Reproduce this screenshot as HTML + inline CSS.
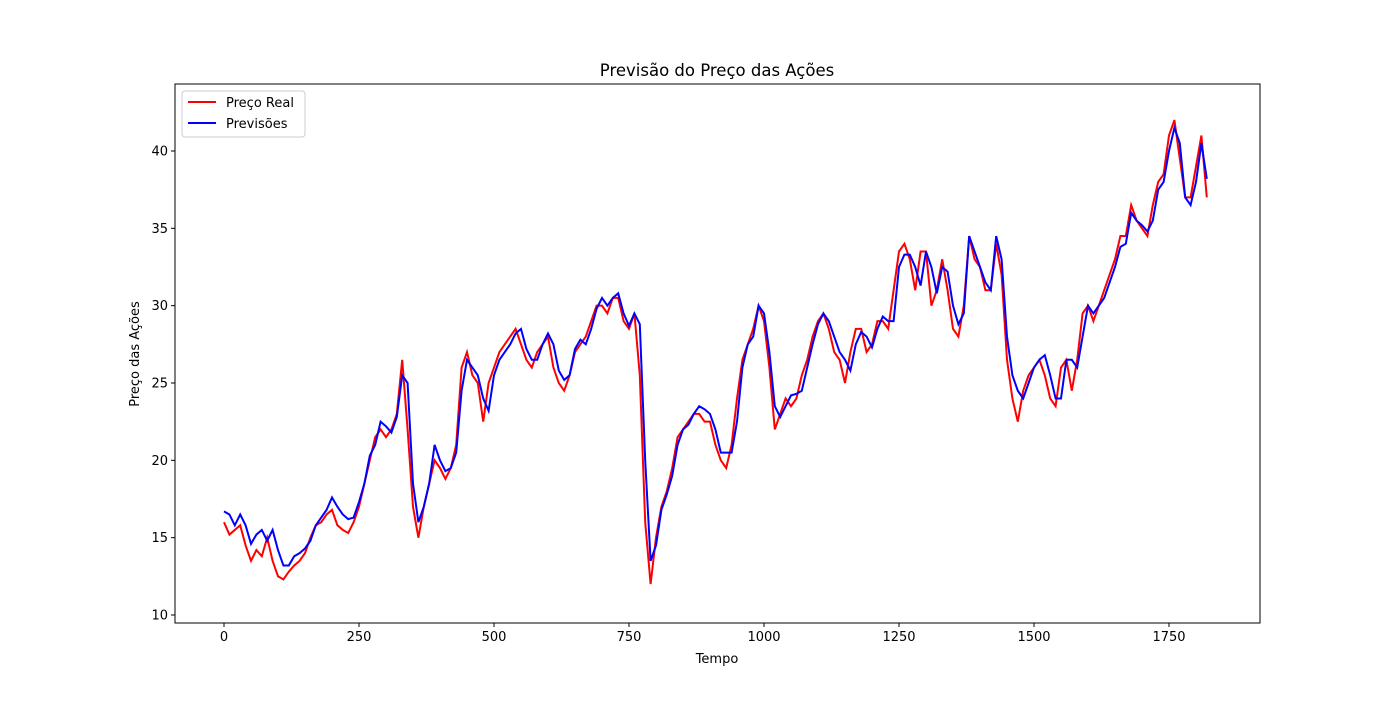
<!DOCTYPE html>
<html><head><meta charset="utf-8"><style>
body{margin:0;background:#fff;font-family:"Liberation Sans","DejaVu Sans",sans-serif}
svg text{font-family:"DejaVu Sans","Liberation Sans",sans-serif}
</style></head><body>
<svg id="c" width="1400" height="700"></svg>
<script>
const tStep = 10;
const realPrice = [16.0,15.2,15.5,15.8,14.5,13.5,14.2,13.8,15.0,13.5,12.5,12.3,12.8,13.2,13.5,14.0,15.0,15.8,16.0,16.5,16.8,15.8,15.5,15.3,16.0,17.0,18.5,20.0,21.5,22.0,21.5,22.0,23.0,26.5,22.0,17.0,15.0,17.0,18.5,20.0,19.5,18.8,19.5,21.0,26.0,27.0,25.5,25.0,22.5,25.0,26.0,27.0,27.5,28.0,28.5,27.5,26.5,26.0,27.0,27.5,28.0,26.0,25.0,24.5,25.5,27.0,27.5,28.0,29.0,30.0,30.0,29.5,30.5,30.5,29.0,28.5,29.5,25.5,16.0,12.0,15.0,17.0,18.0,19.5,21.5,22.0,22.5,23.0,23.0,22.5,22.5,21.0,20.0,19.5,21.0,24.0,26.5,27.5,28.5,30.0,29.0,26.0,22.0,23.0,24.0,23.5,24.0,25.5,26.5,28.0,29.0,29.5,28.5,27.0,26.5,25.0,27.0,28.5,28.5,27.0,27.5,29.0,29.0,28.5,31.0,33.5,34.0,33.0,31.0,33.5,33.5,30.0,31.0,33.0,31.0,28.5,28.0,30.0,34.5,33.0,32.5,31.0,31.0,34.0,32.0,26.5,24.0,22.5,24.5,25.5,26.0,26.5,25.5,24.0,23.5,26.0,26.5,24.5,26.5,29.5,30.0,29.0,30.0,31.0,32.0,33.0,34.5,34.5,36.5,35.5,35.0,34.5,36.5,38.0,38.5,41.0,42.0,39.5,37.0,37.0,39.0,41.0,37.0];
const predicted = [16.7,16.5,15.8,16.5,15.8,14.6,15.2,15.5,14.8,15.5,14.2,13.2,13.2,13.8,14.0,14.3,14.8,15.8,16.3,16.8,17.6,17.0,16.5,16.2,16.3,17.3,18.5,20.3,21.0,22.5,22.2,21.8,22.8,25.5,25.0,18.5,16.0,17.0,18.5,21.0,20.0,19.3,19.5,20.5,24.5,26.5,26.0,25.5,24.0,23.2,25.5,26.5,27.0,27.5,28.2,28.5,27.2,26.5,26.5,27.5,28.2,27.5,25.8,25.2,25.5,27.2,27.8,27.5,28.5,29.8,30.5,30.0,30.5,30.8,29.5,28.7,29.5,28.8,20.0,13.5,14.5,16.8,17.8,19.0,21.0,22.0,22.3,23.0,23.5,23.3,23.0,22.0,20.5,20.5,20.5,22.5,26.0,27.5,28.0,30.0,29.5,27.0,23.5,22.8,23.5,24.2,24.3,24.5,26.0,27.5,28.8,29.5,29.0,28.0,27.0,26.5,25.8,27.5,28.3,28.0,27.3,28.5,29.3,29.0,29.0,32.5,33.3,33.3,32.5,31.3,33.5,32.5,30.8,32.5,32.2,30.0,28.8,29.5,34.5,33.5,32.5,31.5,31.0,34.5,33.0,28.0,25.5,24.5,24.0,25.0,26.0,26.5,26.8,25.5,24.0,24.0,26.5,26.5,26.0,28.0,30.0,29.5,30.0,30.5,31.5,32.5,33.8,34.0,36.0,35.5,35.2,34.8,35.5,37.5,38.0,40.0,41.5,40.5,37.0,36.5,38.0,40.5,38.2];
const xTicks = [0,250,500,750,1000,1250,1500,1750];
const yTicks = [10,15,20,25,30,35,40];

const NS='http://www.w3.org/2000/svg';
const svg=document.getElementById('c');
const L=175,R=1260,T=84,B=623;
const X=t=>224+t*0.54;
const Y=v=>615-(v-10)*15.467;
function mk(tag,attrs,parent){const e=document.createElementNS(NS,tag);for(const k in attrs)e.setAttribute(k,attrs[k]);(parent||svg).appendChild(e);return e;}
function txt(s,attrs){const e=mk('text',attrs);e.textContent=s;return e;}

const rp=mk('polyline',{points:realPrice.map((v,i)=>X(i*tStep)+','+Y(v)).join(' '),fill:'none',stroke:'#ff0000','stroke-width':2});


const pp=mk('polyline',{points:predicted.map((v,i)=>X(i*tStep)+','+Y(v)).join(' '),fill:'none',stroke:'#0000ff','stroke-width':2});



const frame=mk('rect',{x:L,y:T,width:R-L,height:B-T,fill:'none',stroke:'#000','stroke-width':1});



xTicks.forEach(t=>{
  const x=X(t);
  mk('line',{x1:x,x2:x,y1:B,y2:B+4,stroke:'#000'});
  const e=txt(String(t),{x:x,y:B+18,'text-anchor':'middle','font-size':13});
  
  
});
yTicks.forEach(v=>{
  const y=Y(v);
  mk('line',{x1:L-4,x2:L,y1:y,y2:y,stroke:'#000'});
  const e=txt(String(v),{x:L-7,y:y+4.5,'text-anchor':'end','font-size':13});
  
  
});
</script>
<svg width="0" height="0"></svg>
<div style="position:absolute;left:0;top:0;width:1400px;height:700px;pointer-events:none">
<svg width="1400" height="700" style="position:absolute;left:0;top:0">
<text x="717" y="76" text-anchor="middle" font-size="16.5" font-family="DejaVu Sans, Liberation Sans, sans-serif">Previsão do Preço das Ações</text>
<text x="717" y="663" text-anchor="middle" font-size="13" font-family="DejaVu Sans, Liberation Sans, sans-serif">Tempo</text>
<text transform="translate(139,354) rotate(-90)" text-anchor="middle" font-size="13" font-family="DejaVu Sans, Liberation Sans, sans-serif">Preço das Ações</text>
<g>
<rect x="182" y="91" width="123" height="46" rx="3" fill="#fff" stroke="#ccc"/>
<line x1="188" x2="216" y1="102" y2="102" stroke="#ff0000" stroke-width="2"/>
<text x="226" y="107" font-size="13" font-family="DejaVu Sans, Liberation Sans, sans-serif">Preço Real</text>
<line x1="188" x2="216" y1="123" y2="123" stroke="#0000ff" stroke-width="2"/>
<text x="226" y="128" font-size="13" font-family="DejaVu Sans, Liberation Sans, sans-serif">Previsões</text>
</g>
</svg></div>
</body></html>
